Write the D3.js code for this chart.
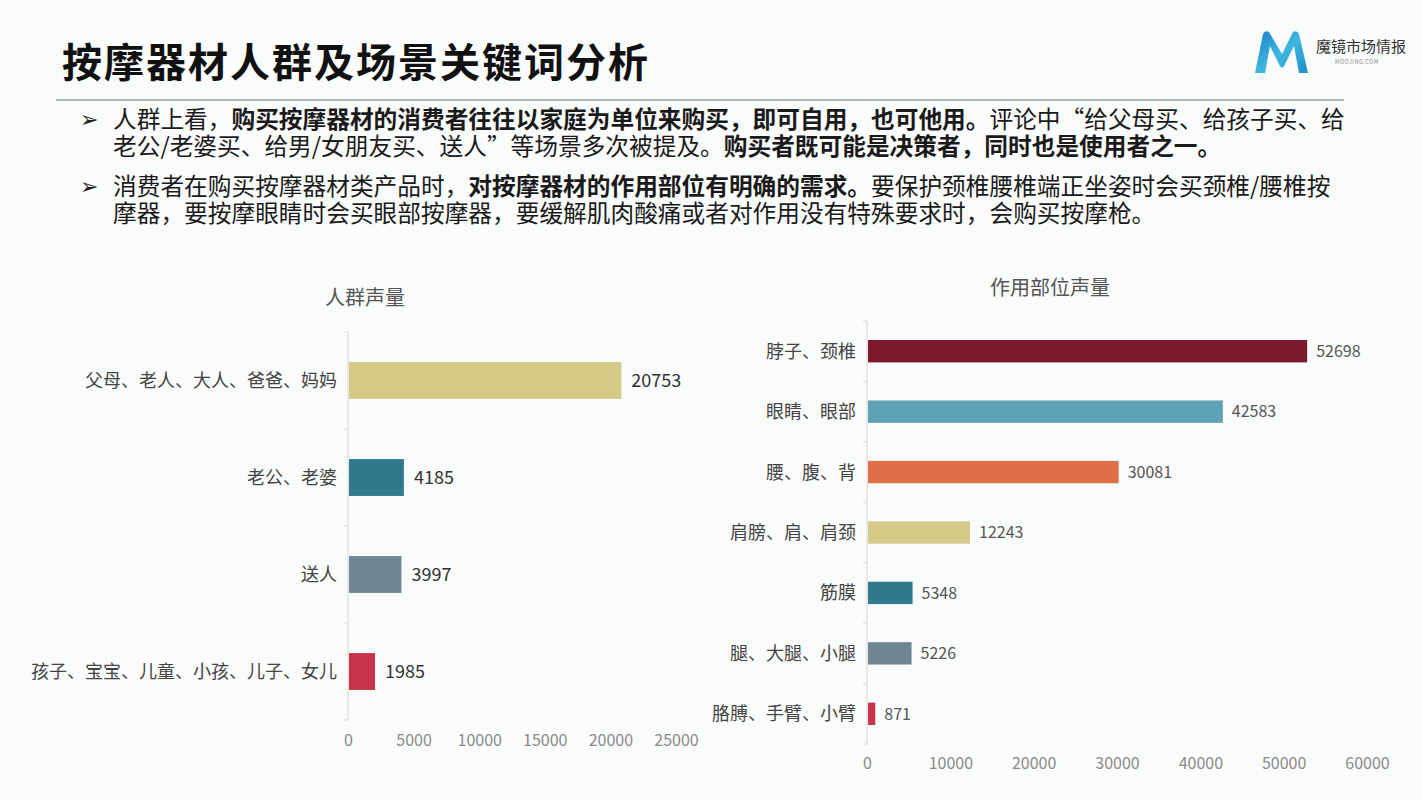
<!DOCTYPE html>
<html>
<head>
<meta charset="utf-8">
<script src="https://d3js.org/d3.v7.min.js"></script>
<style>
body { margin: 0; background: #fafbfb; }
svg { display: block; }
text { font-family: "Noto Sans CJK SC", "Noto Sans", sans-serif; }
</style>
</head>
<body>
<svg id="chart" width="1422" height="800"></svg>
<script>
// data
var crowdCats = ["父母、老人、大人、爸爸、妈妈", "老公、老婆", "送人", "孩子、宝宝、儿童、小孩、儿子、女儿"];
var crowdVals = [20753, 4185, 3997, 1985];
var crowdColors = ["#d5c987", "#2f7a8c", "#6f8792", "#c7344a"];
var crowdTicks = [0, 5000, 10000, 15000, 20000, 25000];

var partCats = ["脖子、颈椎", "眼睛、眼部", "腰、腹、背", "肩膀、肩、肩颈", "筋膜", "腿、大腿、小腿", "胳膊、手臂、小臂"];
var partVals = [52698, 42583, 30081, 12243, 5348, 5226, 871];
var partColors = ["#7a1a2c", "#5ea2b6", "#e06f48", "#d5c987", "#2f7a8c", "#6f8792", "#c7344a"];
var partTicks = [0, 10000, 20000, 30000, 40000, 50000, 60000];

var svg = d3.select("#chart");

svg.append("rect").attr("width", 1422).attr("height", 800).attr("fill", "#fafbfb");

// title + rule
svg.append("text").attr("x", 62).attr("y", 77)
	.attr("font-size", 40).attr("font-weight", "bold").attr("fill", "#111")
	.attr("letter-spacing", 2)
	.text("按摩器材人群及场景关键词分析");
svg.append("line").attr("x1", 56).attr("x2", 1344).attr("y1", 100).attr("y2", 100)
	.attr("stroke", "#aeb3b3").attr("stroke-width", 2);

// logo
var defs = svg.append("defs");
var grad = defs.append("linearGradient").attr("id", "mgrad")
	.attr("x1", "0").attr("y1", "0").attr("x2", "1").attr("y2", "1");
grad.append("stop").attr("offset", "0").attr("stop-color", "#1c7fc4");
grad.append("stop").attr("offset", "0.5").attr("stop-color", "#3fb6e0");
grad.append("stop").attr("offset", "1").attr("stop-color", "#1f8fc8");
var logo = svg.append("g").attr("transform", "translate(1255,30)");
logo.append("path")
	.attr("d", "M0,43 L8,4 Q10,0 14,2 L27,24 L38,2 Q42,0 44,4 L53,43 L44,43 L39,16 L29,36 Q27,39 25,36 L15,16 L10,43 Z")
	.attr("fill", "url(#mgrad)");
svg.append("text").attr("x", 1316).attr("y", 52).attr("font-size", 15)
	.attr("fill", "#333").text("魔镜市场情报");
svg.append("text").attr("x", 1335).attr("y", 64).attr("font-size", 5.5)
	.attr("fill", "#888").attr("letter-spacing", 0.5).text("MOOJING.COM");

// bullets
var bullets = [
	[[["人群上看，", false], ["购买按摩器材的消费者往往以家庭为单位来购买，即可自用，也可他用。", true], ["评论中“给父母买、给孩子买、给", false]],
	 [["老公/老婆买、给男/女朋友买、送人”等场景多次被提及。", false], ["购买者既可能是决策者，同时也是使用者之一。", true]]],
	[[["消费者在购买按摩器材类产品时，", false], ["对按摩器材的作用部位有明确的需求。", true], ["要保护颈椎腰椎端正坐姿时会买颈椎/腰椎按", false]],
	 [["摩器，要按摩眼睛时会买眼部按摩器，要缓解肌肉酸痛或者对作用没有特殊要求时，会购买按摩枪。", false]]]
];
var bulletY = [128, 195];
bullets.forEach(function(b, i) {
	svg.append("text").attr("x", 80).attr("y", bulletY[i] - 1).attr("font-size", 22)
		.attr("fill", "#222").style("font-family", "DejaVu Sans").text("➢");
	b.forEach(function(line, j) {
		var t = svg.append("text").attr("x", 113).attr("y", bulletY[i] + j * 27)
			.attr("font-size", 23.7).attr("fill", "#1a1a1a");
		line.forEach(function(seg) {
			t.append("tspan").attr("font-weight", seg[1] ? "bold" : "normal").text(seg[0]);
		});
	});
});

function drawBars(opts) {
	var g = svg.append("g");
	var x = d3.scaleLinear().domain([0, opts.max]).range([opts.x0, opts.x1]);
	var y = d3.scaleBand().domain(opts.cats).range([opts.y0, opts.y1])
		.paddingInner(opts.pad).paddingOuter(opts.pad / 2);

	g.append("text").attr("x", opts.titleX).attr("y", opts.titleY)
		.attr("text-anchor", "middle").attr("font-size", 20).attr("fill", "#555")
		.text(opts.title);

	// y axis line and band separators
	g.append("line").attr("x1", x(0)).attr("x2", x(0))
		.attr("y1", opts.y0).attr("y2", opts.y1)
		.attr("stroke", "#e2e2e2").attr("stroke-width", 1.5);
	d3.range(opts.cats.length + 1).forEach(function(i) {
		var yy = opts.y0 + i * y.step();
		g.append("line").attr("x1", x(0) - 4).attr("x2", x(0))
			.attr("y1", yy).attr("y2", yy).attr("stroke", "#e2e2e2").attr("stroke-width", 1.5);
	});

	g.selectAll("rect.bar").data(opts.vals).enter().append("rect")
		.attr("class", "bar")
		.attr("x", x(0) + 1)
		.attr("y", function(d, i) { return y(opts.cats[i]); })
		.attr("width", function(d) { return x(d) - x(0); })
		.attr("height", y.bandwidth())
		.attr("fill", function(d, i) { return opts.colors[i]; });

	g.selectAll("text.cat").data(opts.cats).enter().append("text")
		.attr("class", "cat")
		.attr("x", x(0) - 11)
		.attr("y", function(d) { return y(d) + y.bandwidth() / 2; })
		.attr("dy", "0.36em").attr("text-anchor", "end")
		.attr("font-size", 18).attr("fill", "#444")
		.text(function(d) { return d; });

	g.selectAll("text.val").data(opts.vals).enter().append("text")
		.attr("class", "val")
		.attr("x", function(d) { return x(d) + opts.valGap; })
		.attr("y", function(d, i) { return y(opts.cats[i]) + y.bandwidth() / 2; })
		.attr("dy", "0.36em")
		.attr("font-size", opts.valSize).attr("fill", opts.valColor)
		.text(function(d) { return d; });

	var ax = g.append("g").attr("transform", "translate(0," + opts.tickY + ")")
		.call(d3.axisBottom(x).tickValues(opts.ticks).tickSize(0).tickFormat(d3.format("d")));
	ax.select(".domain").remove();
	ax.selectAll("text").attr("font-size", 16).attr("fill", "#8a8a8a")
		.style("font-family", "\"Noto Sans CJK SC\", sans-serif");
}

drawBars({
	cats: crowdCats, vals: crowdVals, colors: crowdColors, ticks: crowdTicks,
	max: 25000, x0: 348, x1: 676, y0: 332, y1: 720, pad: 0.62,
	title: "人群声量", titleX: 365, titleY: 305, tickY: 732, valGap: 11, valSize: 18, valColor: "#333"
});

drawBars({
	cats: partCats, vals: partVals, colors: partColors, ticks: partTicks,
	max: 60000, x0: 867, x1: 1367, y0: 321, y1: 744, pad: 0.63,
	title: "作用部位声量", titleX: 1050, titleY: 295, tickY: 755, valGap: 10, valSize: 16, valColor: "#555"
});
</script>
</body>
</html>
